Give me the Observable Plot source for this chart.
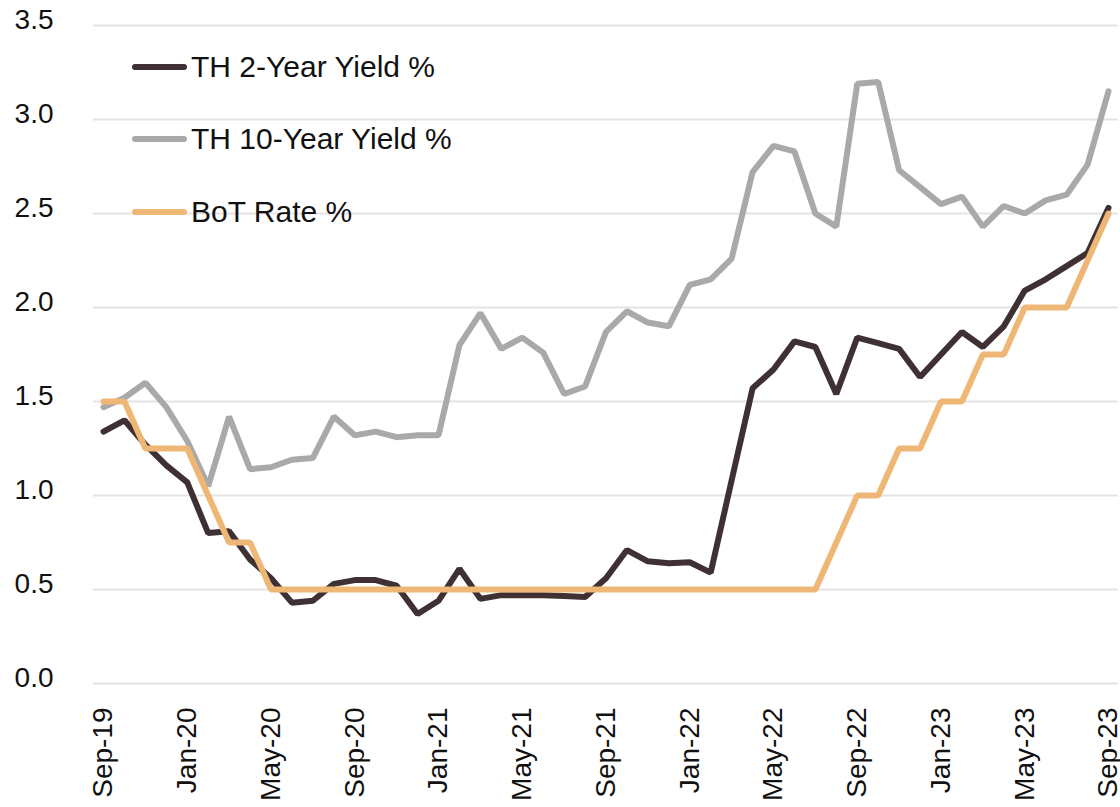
<!DOCTYPE html>
<html>
<head>
<meta charset="utf-8">
<script src="https://cdn.jsdelivr.net/npm/d3@7"></script>
<script src="https://cdn.jsdelivr.net/npm/@observablehq/plot@0.6"></script>
<style>
  html, body { margin: 0; padding: 0; background: #fff; }
  #wrap { position: relative; width: 1120px; height: 807px; font-family: "Liberation Sans", Arial, sans-serif; }
  #legend { position: absolute; left: 132px; top: 0; }
  .item { position: absolute; left: 0; display: flex; align-items: center; white-space: nowrap; font-size: 30px; color: #111; }
  .sw { width: 55px; height: 6px; border-radius: 3px; margin-right: 4px; }
</style>
</head>
<body>
<div id="wrap"><div id="legend"></div></div>
<script>
const months = ["Sep-19","Oct-19","Nov-19","Dec-19","Jan-20","Feb-20","Mar-20","Apr-20","May-20","Jun-20","Jul-20","Aug-20","Sep-20","Oct-20","Nov-20","Dec-20","Jan-21","Feb-21","Mar-21","Apr-21","May-21","Jun-21","Jul-21","Aug-21","Sep-21","Oct-21","Nov-21","Dec-21","Jan-22","Feb-22","Mar-22","Apr-22","May-22","Jun-22","Jul-22","Aug-22","Sep-22","Oct-22","Nov-22","Dec-22","Jan-23","Feb-23","Mar-23","Apr-23","May-23","Jun-23","Jul-23","Aug-23","Sep-23"];

const th2y = [1.34,1.40,1.27,1.16,1.07,0.80,0.81,0.66,0.56,0.43,0.44,0.53,0.55,0.55,0.52,0.37,0.44,0.61,0.45,0.47,0.47,0.47,0.465,0.46,0.56,0.71,0.65,0.64,0.645,0.59,1.08,1.57,1.67,1.82,1.79,1.54,1.84,1.81,1.78,1.63,1.75,1.87,1.79,1.90,2.09,2.15,2.22,2.29,2.53];

const th10y = [1.47,1.52,1.60,1.47,1.29,1.05,1.42,1.14,1.15,1.19,1.20,1.42,1.32,1.34,1.31,1.32,1.32,1.80,1.97,1.78,1.84,1.76,1.54,1.58,1.87,1.98,1.92,1.90,2.12,2.15,2.26,2.72,2.86,2.83,2.50,2.43,3.19,3.20,2.73,2.64,2.55,2.59,2.43,2.54,2.50,2.57,2.60,2.76,3.15];

const botRate = [1.50,1.50,1.25,1.25,1.25,1.00,0.75,0.75,0.50,0.50,0.50,0.50,0.50,0.50,0.50,0.50,0.50,0.50,0.50,0.50,0.50,0.50,0.50,0.50,0.50,0.50,0.50,0.50,0.50,0.50,0.50,0.50,0.50,0.50,0.50,0.75,1.00,1.00,1.25,1.25,1.50,1.50,1.75,1.75,2.00,2.00,2.00,2.25,2.50];

const seriesNames = ["TH 2-Year Yield %","TH 10-Year Yield %","BoT Rate %"];
const seriesColors = ["#3f3033","#a9a9a9","#efb776"];
const xTickLabels = ["Sep-19","Jan-20","May-20","Sep-20","Jan-21","May-21","Sep-21","Jan-22","May-22","Sep-22","Jan-23","May-23","Sep-23"];
const yTicks = [0,0.5,1,1.5,2,2.5,3,3.5];

const mk = vals => months.map((m, i) => ({month: m, value: vals[i]}));
const d2 = mk(th2y), d10 = mk(th10y), dBot = mk(botRate);

const lineOpts = {strokeWidth: 6, strokeLinejoin: "miter", strokeLinecap: "round"};

const chart = Plot.plot({
  width: 1120,
  height: 807,
  marginLeft: 93,
  marginRight: 2,
  marginTop: 25,
  marginBottom: 124,
  style: {fontFamily: "'Liberation Sans', Arial, sans-serif", color: "#111", background: "#fff"},
  x: {type: "point", domain: months, padding: 0, inset: 10},
  y: {domain: [0, 3.5]},
  marks: [
    Plot.gridY(yTicks, {stroke: "#e7e2e3", strokeOpacity: 1, strokeWidth: 2}),
    Plot.axisY({ticks: yTicks, tickSize: 0, tickPadding: 40, tickFormat: d3.format(".1f"), fontSize: 28, dy: -5, label: null}),
    Plot.axisX({ticks: xTickLabels, tickSize: 0, tickRotate: -90, tickPadding: 24, fontSize: 28, label: null}),
    Plot.line(d10, {x: "month", y: "value", stroke: seriesColors[1], ...lineOpts}),
    Plot.line(d2, {x: "month", y: "value", stroke: seriesColors[0], ...lineOpts}),
    Plot.line(dBot, {x: "month", y: "value", stroke: seriesColors[2], ...lineOpts})
  ]
});
document.getElementById("wrap").prepend(chart);

const legend = document.getElementById("legend");
const tops = [67, 139, 212];
seriesNames.forEach((name, i) => {
  const it = document.createElement("div");
  it.className = "item";
  it.style.top = (tops[i] - 18) + "px";
  it.style.height = "36px";
  const sw = document.createElement("span");
  sw.className = "sw";
  sw.style.background = seriesColors[i];
  const tx = document.createElement("span");
  tx.textContent = name;
  it.appendChild(sw); it.appendChild(tx);
  legend.appendChild(it);
});
</script>
</body>
</html>
